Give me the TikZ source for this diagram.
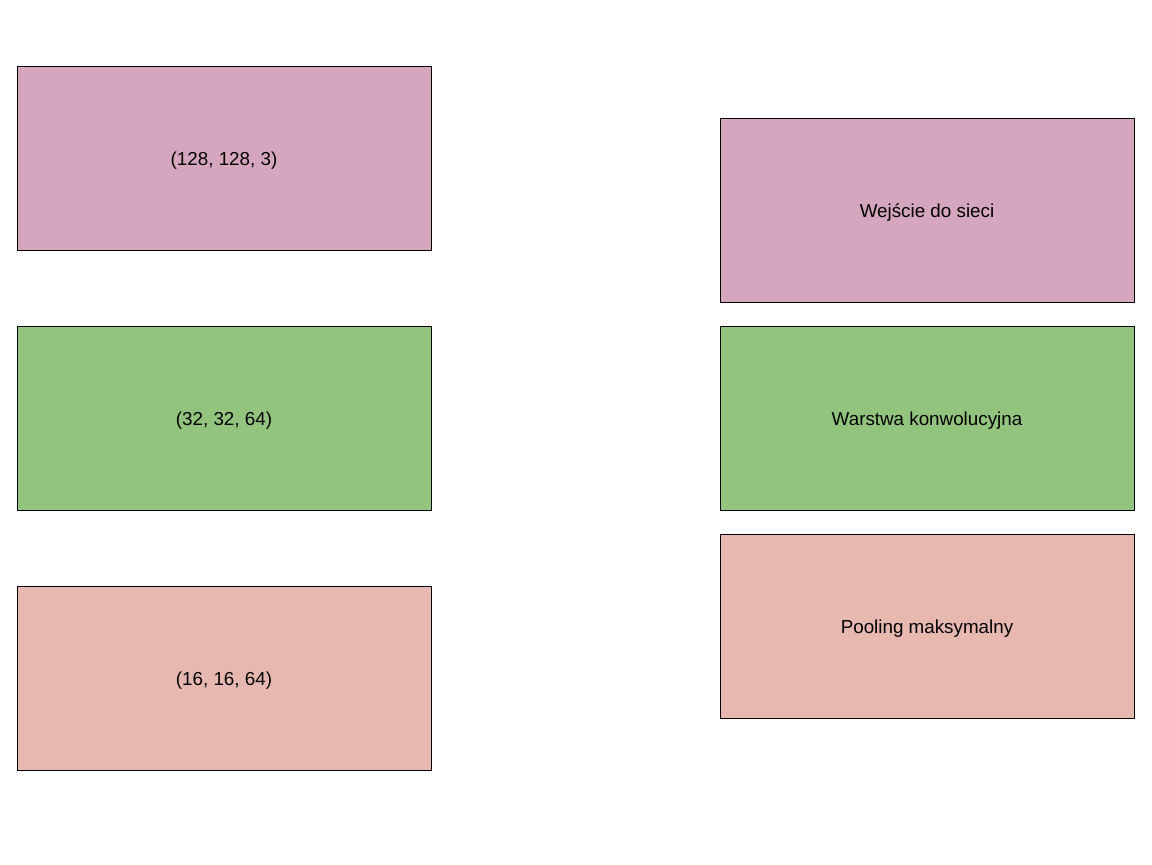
\documentclass[tikz,border=0pt]{standalone}
\usepackage{fontspec}
\setmainfont{Liberation Sans}
\definecolor{cnnInput}{HTML}{D5A6BD}
\definecolor{cnnConv}{HTML}{93C47D}
\definecolor{cnnPool}{HTML}{E6B8AF}
\begin{document}
\begin{tikzpicture}
\tikzset{
    cnnBox/.style={rectangle,draw=black,line width=0.4pt,minimum width=8.28cm,minimum height=3.68cm,align=center,text height=0.82em,text depth=0pt,font=\fontsize{10.7}{12}\selectfont},
}
\useasboundingbox (0,0) rectangle (23.04,-17.28);

\node[cnnBox,fill=cnnInput] (shapeIn) at (4.48,-3.16) {(128, 128, 3)};
\node[cnnBox,fill=cnnConv] (shapeConv) at (4.48,-8.36) {(32, 32, 64)};
\node[cnnBox,fill=cnnPool] (shapePool) at (4.48,-13.57) {(16, 16, 64)};

\node[cnnBox,fill=cnnInput] (legIn) at (18.54,-4.2) {Wejście do sieci};
\node[cnnBox,fill=cnnConv] (legConv) at (18.54,-8.36) {Warstwa konwolucyjna};
\node[cnnBox,fill=cnnPool] (legPool) at (18.54,-12.52) {Pooling maksymalny};
\end{tikzpicture}
\end{document}
